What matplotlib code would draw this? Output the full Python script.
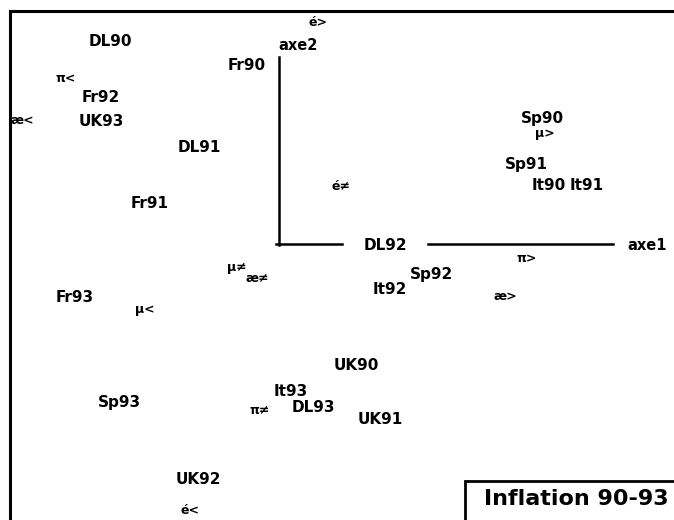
import matplotlib
matplotlib.use('Agg')
import matplotlib.pyplot as plt
from matplotlib.patches import Rectangle

# Factor map: observations (country + year) on axes 1 and 2
obs_labels = ['DL90', 'Fr90', 'Fr92', 'UK93', 'DL91', 'Fr91', 'Sp90', 'Sp91',
              'It90', 'It91', 'DL92', 'Sp92', 'It92', 'Fr93', 'UK90', 'It93',
              'DL93', 'Sp93', 'UK91', 'UK92']
obs_x = [-1.69, -0.32, -1.78, -1.78, -0.80, -1.29, 2.63, 2.47,
         2.70, 3.08, 1.06, 1.53, 1.11, -2.04, 0.77, 0.12,
         0.34, -1.60, 1.01, -0.81]
obs_y = [2.03, 1.78, 1.47, 1.22, 0.96, 0.41, 1.26, 0.79,
         0.58, 0.58, -0.02, -0.30, -0.45, -0.53, -1.22, -1.47,
         -1.63, -1.59, -1.76, -2.36]

# variable modalities
var_labels = ['é>', 'é≠', 'é<', 'π<', 'π>', 'π≠', 'æ<', 'æ>', 'æ≠', 'µ<', 'µ>', 'µ≠']
var_x = [0.39, 0.62, -0.89, -2.13, 2.48, -0.19, -2.57, 2.26, -0.22, -1.34, 2.66, -0.42]
var_y = [2.21, 0.58, -2.66, 1.66, -0.14, -1.67, 1.24, -0.53, -0.34, -0.66, 1.11, -0.24]

title = 'Inflation 90-93'

W, H = 674, 520
fig = plt.figure(figsize=(W / 100, H / 100), dpi=100)
# frame: left and top edges only, the rest runs off the page
ax = fig.add_axes([10 / W, 0, (W - 10) / W, (H - 11) / H])
ax.set_xlim(-2.69, 3.95)
ax.set_ylim(-2.76, 2.33)
for side in ['right', 'bottom']:
    ax.spines[side].set_visible(False)
for side in ['left', 'top']:
    ax.spines[side].set_linewidth(2.2)
ax.set_xticks([])
ax.set_yticks([])

# the two factor axes (axe1 broken around DL92)
ax.plot([0, 0], [-0.01, 1.87], color='black', lw=1.8)
ax.plot([-0.03, 0.63], [0, 0], color='black', lw=1.8)
ax.plot([1.49, 3.34], [0, 0], color='black', lw=1.8)
ax.text(3.68, -0.02, 'axe1', ha='center', va='center', fontsize=10.5, fontweight='bold')
ax.text(0.19, 1.99, 'axe2', ha='center', va='center', fontsize=10.5, fontweight='bold')

for lab, x, y in zip(obs_labels, obs_x, obs_y):
    ax.text(x, y, lab, ha='center', va='center', fontsize=11, fontweight='bold')
for lab, x, y in zip(var_labels, var_x, var_y):
    ax.text(x, y, lab, ha='center', va='center', fontsize=9, fontweight='bold')

# title box in the lower right corner
fig.patches.append(Rectangle((465 / W, -0.05), 0.4, (H - 481) / H + 0.05,
                             transform=fig.transFigure, facecolor='white',
                             edgecolor='black', lw=2))
fig.text(576 / W, 1 - 499 / H, title, ha='center', va='center',
         fontsize=16, fontweight='bold')

fig.savefig('out.png', dpi=100)
